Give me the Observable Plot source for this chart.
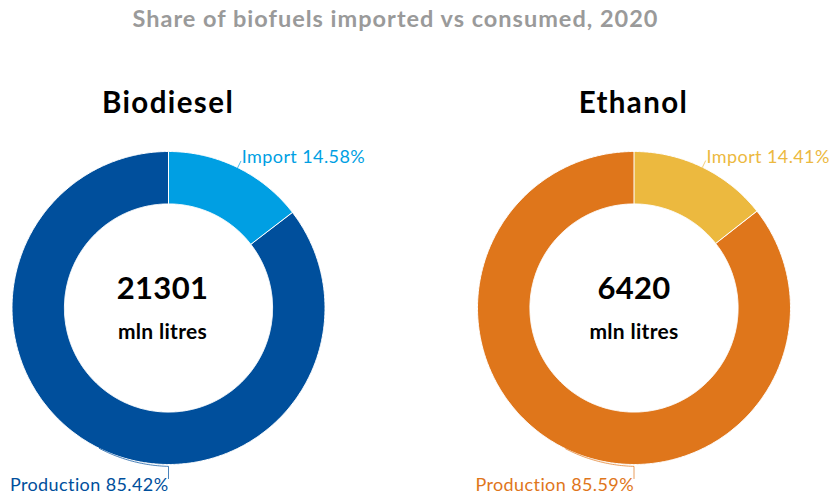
<!DOCTYPE html>
<html><head><meta charset="utf-8">
<script src="https://cdn.jsdelivr.net/npm/d3@7"></script>
<script src="https://cdn.jsdelivr.net/npm/@observablehq/plot@0.6"></script>
<style>
body{margin:0;background:#fff;font-family:Lato,"Source Sans Pro",sans-serif;}
#wrap{position:relative;width:829px;height:494px;overflow:hidden}
.title{position:absolute;left:-19px;width:829px;top:7px;text-align:center;font-size:23.5px;font-weight:700;color:#9a9a9a;line-height:1;white-space:nowrap;letter-spacing:1px}
.sub{position:absolute;top:87px;width:300px;font-size:29.5px;font-weight:700;color:#000;line-height:1;text-align:center;letter-spacing:1.4px}
.chart{position:absolute;top:130px}
.chart .lbl text{letter-spacing:0.4px}
.chart .ctr text{letter-spacing:0.3px}
</style></head><body>
<div id="wrap"></div>
<script>
const title = "Share of biofuels imported vs consumed, 2020";
const fuels = ["Biodiesel", "Ethanol"];
const totals = [21301, 6420];
const unitLabel = "mln litres";
const segments = ["Import", "Production"];
const sharesBiodiesel = [14.58, 85.42];
const sharesEthanol = [14.41, 85.59];
const colorsBiodiesel = ["#009fe3", "#004f9c"];
const colorsEthanol = ["#ecb93f", "#df761b"];

const R_OUT = 1, R_IN = 0.665;
const wrap = document.getElementById("wrap");
const t = document.createElement("div");
t.className = "title"; t.textContent = title; wrap.appendChild(t);

function donut(name, total, shares, colors, left, width, cx, centerShift) {
  const pxR = 156.5;
  let acc = 0;
  const poly = [];
  const mids = [];
  shares.forEach((v, j) => {
    const a0 = acc / 100 * 2 * Math.PI;
    acc += v;
    const a1 = acc / 100 * 2 * Math.PI;
    mids.push((a0 + a1) / 2);
    const n = Math.max(2, Math.ceil((a1 - a0) / (Math.PI / 360)));
    for (let k = 0; k <= n; k++) {
      const a = a0 + (a1 - a0) * k / n;
      poly.push({seg: segments[j], x: Math.sin(a) * R_OUT, y: Math.cos(a) * R_OUT});
    }
    for (let k = n; k >= 0; k--) {
      const a = a0 + (a1 - a0) * k / n;
      poly.push({seg: segments[j], x: Math.sin(a) * R_IN, y: Math.cos(a) * R_IN});
    }
  });
  const mI = mids[0];
  const leadI = [{seg: segments[0], x: Math.sin(mI), y: Math.cos(mI)},
                 {seg: segments[0], x: Math.sin(mI) * 1.045, y: Math.cos(mI) * 1.045}];
  const mP = mids[1];
  const leadP = [];
  const steps = 40;
  for (let k = 0; k <= steps; k++) {
    const a = mP + (Math.PI - mP) * k / steps;
    const r = 1 + 0.012 * k / steps;
    leadP.push({seg: segments[1], x: Math.sin(a) * r, y: Math.cos(a) * r});
  }
  leadP.push({seg: segments[1], x: 0, y: -1.09});
  const labels = [
    {seg: segments[0], x: leadI[1].x, y: leadI[1].y, text: `${segments[0]} ${shares[0].toFixed(2)}%`, anchor: "start"},
    {seg: segments[1], x: 0, y: -1.09, text: `${segments[1]} ${shares[1].toFixed(2)}%`, anchor: "end"}
  ];
  const height = 364;
  const plot = Plot.plot({
    width, height,
    marginLeft: cx - pxR, marginRight: width - (cx + pxR),
    marginTop: 21, marginBottom: height - 21 - 2 * pxR,
    x: {domain: [-1, 1], axis: null},
    y: {domain: [-1, 1], axis: null},
    color: {domain: segments, range: colors},
    style: {fontFamily: "Lato, 'Source Sans Pro', sans-serif", overflow: "visible"},
    marks: [
      Plot.line(poly, {x: "x", y: "y", z: "seg", fill: "seg", stroke: "white", strokeWidth: 1, curve: "linear-closed"}),
      Plot.line(leadI, {x: "x", y: "y", stroke: "seg", strokeWidth: 1, strokeOpacity: 0.7}),
      Plot.line(leadP, {x: "x", y: "y", stroke: "seg", strokeWidth: 1, strokeOpacity: 0.7}),
      Plot.text(labels.filter(d => d.anchor === "start"), {x: "x", y: "y", text: "text", fill: "seg", textAnchor: "start", dx: 1, dy: -4, fontSize: 18, className: "lbl"}),
      Plot.text(labels.filter(d => d.anchor === "end"), {x: "x", y: "y", text: "text", fill: "seg", textAnchor: "end", dy: 7, fontSize: 18, className: "lbl"}),
      Plot.text([total], {x: () => 0, y: () => 0, text: d => String(d), fontSize: 31, fontWeight: 700, fill: "#000", dx: centerShift, dy: -19, className: "ctr"}),
      Plot.text([unitLabel], {x: () => 0, y: () => 0, text: d => d, fontSize: 21, fontWeight: 700, fill: "#000", dx: centerShift, dy: 24, className: "ctr"})
    ]
  });
  const div = document.createElement("div");
  div.className = "chart"; div.style.left = left + "px";
  div.appendChild(plot);
  wrap.appendChild(div);
  const s = document.createElement("div");
  s.className = "sub"; s.style.left = (left + cx - 150) + "px"; s.textContent = name;
  wrap.appendChild(s);
}

donut(fuels[0], totals[0], sharesBiodiesel, colorsBiodiesel, 0, 414, 168, -6);
donut(fuels[1], totals[1], sharesEthanol, colorsEthanol, 414, 415, 219.5, 0);
</script>
</body></html>
